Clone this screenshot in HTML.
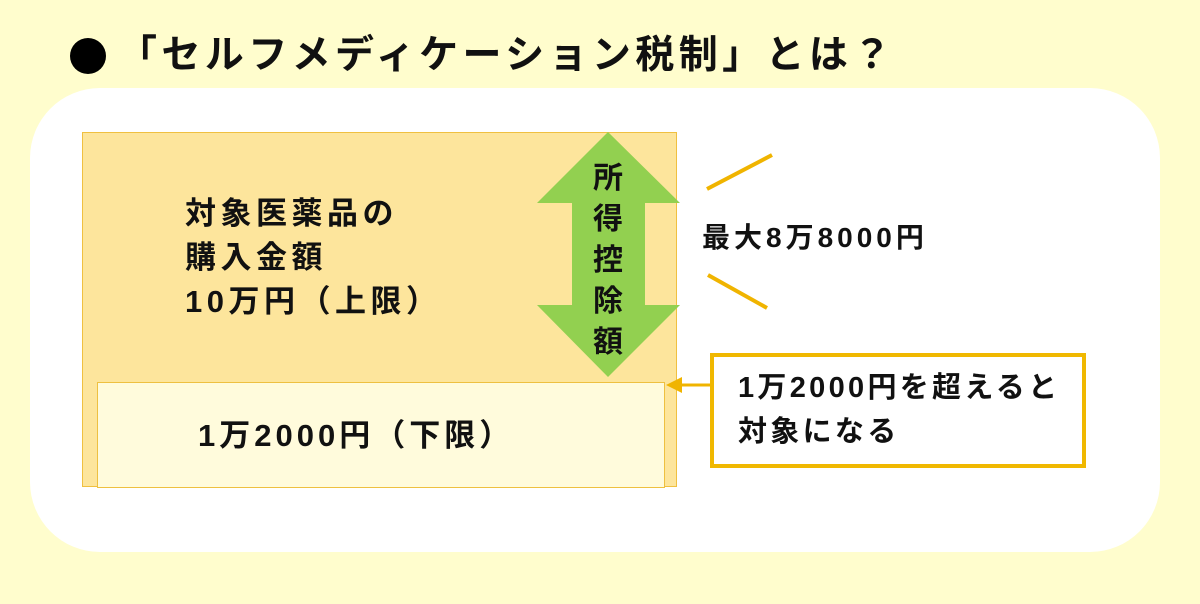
<!DOCTYPE html>
<html><head><meta charset="utf-8"><style>
body{margin:0;width:1200px;height:604px;background:#fffdcd;position:relative;overflow:hidden;font-family:"Liberation Sans","Noto Sans CJK JP",sans-serif;font-weight:bold;color:#111}
.a{position:absolute;white-space:nowrap}
</style></head><body>
<div class="a" style="left:70px;top:38px;width:36px;height:36px;border-radius:50%;background:#000"></div>
<div class="a" style="left:118px;top:28px;font-size:39px;line-height:56px;letter-spacing:4.4px">「セルフメディケーション税制」とは？</div>
<div class="a" style="left:30px;top:88px;width:1130px;height:464px;background:#fff;border-radius:70px"></div>
<div class="a" style="left:82px;top:132px;width:593px;height:353px;background:#fde59c;border:1px solid #f0c040"></div>
<div class="a" style="left:97px;top:382px;width:566px;height:104px;background:#fffbdc;border:1px solid #eec040"></div>
<div class="a" style="left:185px;top:192px;font-size:31px;line-height:44px;letter-spacing:4.5px">対象医薬品の<br>購入金額<br>10万円（上限）</div>
<div class="a" style="left:198px;top:414px;font-size:31px;line-height:44px;letter-spacing:4px">1万2000円（下限）</div>
<svg class="a" style="left:0;top:0" width="1200" height="604">
<polygon points="608,132 680,203 645,203 645,305 680,305 608,377 537,305 572,305 572,203 537,203" fill="#92d050"/>
<g stroke="#f0b400" stroke-width="4"><line x1="707" y1="189" x2="772" y2="155"/><line x1="708" y1="275" x2="767" y2="308"/>
<line x1="710" y1="385" x2="680" y2="385" stroke-width="3"/></g>
<polygon points="666,385 682,377 682,393" fill="#f0b400"/>
</svg>
<div class="a" style="left:590px;top:158px;width:36px;font-size:30px;line-height:41px;text-align:center">所<br>得<br>控<br>除<br>額</div>
<div class="a" style="left:702px;top:218px;font-size:28px;line-height:40px;letter-spacing:4px">最大8万8000円</div>
<div class="a" style="left:710px;top:353px;width:368px;height:107px;border:4px solid #f0b800;background:#fff"></div>
<div class="a" style="left:738px;top:366px;font-size:29px;line-height:44px;letter-spacing:3.3px">1万2000円を超えると<br>対象になる</div>
</body></html>
